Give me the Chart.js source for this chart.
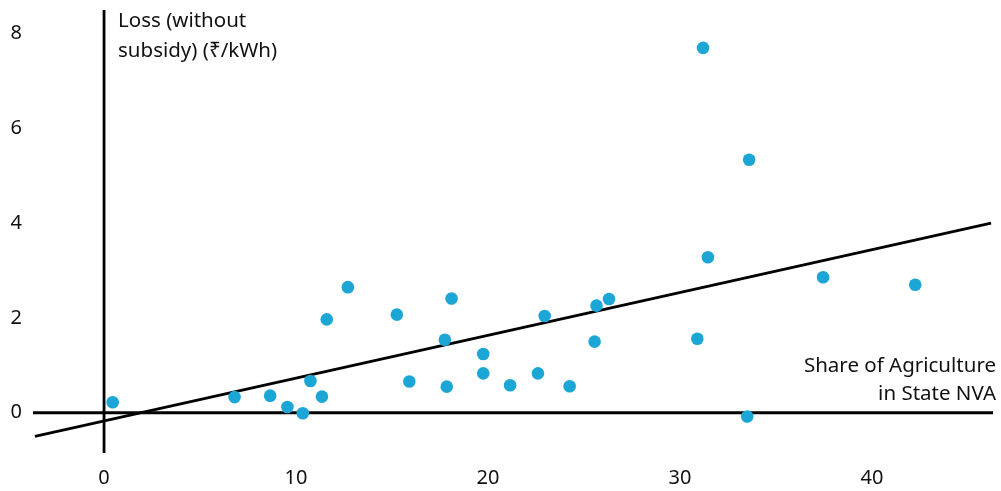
<!DOCTYPE html>
<html>
<head>
<meta charset="utf-8">
<script src="https://cdn.jsdelivr.net/npm/chart.js@4"></script>
<style>
  html, body { margin: 0; padding: 0; background: #fff; }
  #wrap { width: 1001px; height: 491px; }
</style>
</head>
<body>
<div id="wrap"><canvas id="myChart" width="1001" height="491"></canvas></div>
<script>
// share of agriculture in state NVA (%) and loss without subsidy (₹/kWh)
const shareAgri = [0.45, 6.8, 8.65, 9.55, 10.35, 10.75, 11.35, 11.6, 12.7, 15.25, 15.9, 17.75, 18.1, 17.85,
  19.75, 19.75, 21.15, 22.6, 22.95, 24.25, 25.55, 25.65, 26.3, 30.9, 31.2, 31.45, 33.5, 33.6, 37.45, 42.25];
const lossNoSubsidy = [0.22, 0.33, 0.36, 0.12, -0.01, 0.67, 0.34, 1.97, 2.65, 2.07, 0.66, 1.54, 2.41, 0.55,
  1.24, 0.83, 0.58, 0.83, 2.04, 0.56, 1.5, 2.26, 2.4, 1.56, 7.7, 3.28, -0.08, 5.34, 2.86, 2.7];

// fitted trend line end points
const trendX = [-3.6, 46.2];
const trendY = [-0.5, 4.0];

const xTicks = [0, 10, 20, 30, 40];
const yTicks = [0, 2, 4, 6, 8];
const xRange = [-3.7, 46.3];
const yRange = [-0.85, 8.5];

const dotColor = 'rgb(28, 166, 214)';
const fontFamily = '"Noto Sans", "Open Sans", "DejaVu Sans", sans-serif';

const labelsPlugin = {
  id: 'axisTitles',
  afterDraw(chart) {
    const { ctx, scales: { x, y } } = chart;
    ctx.save();
    ctx.fillStyle = '#111';
    ctx.font = '20.5px ' + fontFamily;
    ctx.textBaseline = 'middle';
    ctx.textAlign = 'left';
    const lx = x.getPixelForValue(0) + 14;
    ctx.fillText('Loss (without', lx, y.getPixelForValue(8.26));
    ctx.fillText('subsidy) (₹/kWh)', lx, y.getPixelForValue(7.63));
    ctx.textAlign = 'right';
    const rx = x.getPixelForValue(xRange[1]) + 3;
    ctx.fillText('Share of Agriculture', rx, y.getPixelForValue(0.99));
    ctx.fillText('in State NVA', rx, y.getPixelForValue(0.4));
    ctx.restore();
  }
};

// drop the label overhang padding so the plot area fills the frame
function fitAxis(size, key) {
  return s => {
    s[key] = size;
    s.paddingTop = 0; s.paddingBottom = 0;
    s.paddingLeft = 0; s.paddingRight = 0;
  };
}

const ctx = document.getElementById('myChart').getContext('2d');
const myChart = new Chart(ctx, {
  type: 'scatter',
  data: {
    datasets: [
      {
        label: 'States',
        data: shareAgri.map((v, i) => ({ x: v, y: lossNoSubsidy[i] })),
        backgroundColor: dotColor,
        borderWidth: 0,
        pointRadius: 6.3
      },
      {
        type: 'line',
        label: 'Trend',
        data: trendX.map((v, i) => ({ x: v, y: trendY[i] })),
        borderColor: '#000',
        borderWidth: 2.8,
        pointRadius: 0
      },
      {
        type: 'line',
        label: 'x axis',
        data: [{ x: xRange[0], y: 0 }, { x: xRange[1], y: 0 }],
        borderColor: '#000',
        borderWidth: 2.8,
        pointRadius: 0
      },
      {
        type: 'line',
        label: 'y axis',
        data: [{ x: 0, y: yRange[0] }, { x: 0, y: yRange[1] }],
        borderColor: '#000',
        borderWidth: 2.8,
        pointRadius: 0
      }
    ]
  },
  options: {
    responsive: false,
    animation: false,
    layout: { padding: { top: 10, right: 8, left: 0, bottom: 0 } },
    plugins: { legend: { display: false }, tooltip: { enabled: false } },
    scales: {
      x: {
        type: 'linear',
        min: xRange[0],
        max: xRange[1],
        grid: { display: false, drawTicks: false },
        border: { display: false },
        afterBuildTicks: s => { s.ticks = xTicks.map(v => ({ value: v })); },
        afterFit: fitAxis(38, 'height'),
        ticks: { color: '#111', padding: 13, font: { family: fontFamily, size: 20 }, maxRotation: 0 }
      },
      y: {
        type: 'linear',
        min: yRange[0],
        max: yRange[1],
        grid: { display: false, drawTicks: false },
        border: { display: false },
        afterBuildTicks: s => { s.ticks = yTicks.map(v => ({ value: v })); },
        afterFit: fitAxis(33, 'width'),
        ticks: { color: '#111', padding: 11, font: { family: fontFamily, size: 20 } }
      }
    }
  },
  plugins: [labelsPlugin]
});
</script>
</body>
</html>
